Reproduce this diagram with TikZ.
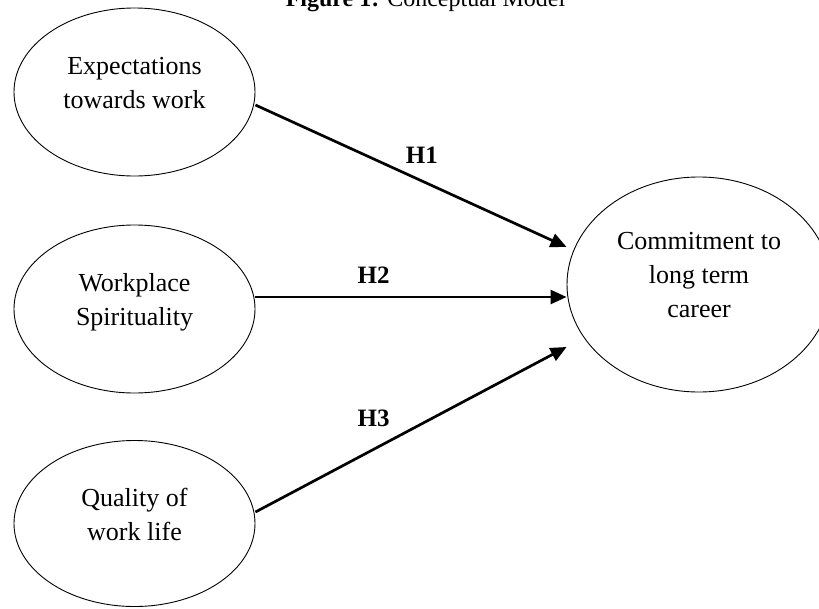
\documentclass[tikz,border=0pt]{standalone}
\usepackage{fontspec}
\setmainfont{Liberation Serif}
\usetikzlibrary{arrows.meta,shapes.geometric}

\begin{document}
\begin{tikzpicture}[x=1pt,y=-1pt,
  oval/.style={draw, ellipse, line width=0.9pt, inner sep=0pt},
  ovaltext/.style={align=center, inner sep=0pt, text depth=0pt, font=\fontsize{26}{34}\selectfont},
  hyp/.style={line width=2.7pt, -{Triangle[length=16pt,width=14pt]}},
  hyplabel/.style={inner sep=0pt, font=\fontsize{25}{30}\selectfont\bfseries}]
\useasboundingbox (0,0) rectangle (819,608);
\node [anchor=base] (title) at (425.5,6) {\fontsize{24}{28}\selectfont\textbf{Figure 1:} Conceptual Model};
% the three antecedents
\node [oval, minimum width=241pt, minimum height=168pt] (exp) at (134.5,92) {};
\node [oval, minimum width=241pt, minimum height=168pt] (wsp) at (134.5,309) {};
\node [oval, minimum width=241pt, minimum height=166pt] (qwl) at (134.5,523.5) {};
% the outcome
\node [oval, minimum width=264pt, minimum height=215pt] (car) at (699,284.5) {};
\node [ovaltext] (exptext) at ([yshift=9pt]exp.center) {Expectations\\towards work};
\node [ovaltext] (wsptext) at ([yshift=10pt]wsp.center) {Workplace\\Spirituality};
\node [ovaltext] (qwltext) at ([yshift=9pt]qwl.center) {Quality of\\work life};
\node [ovaltext] (cartext) at ([yshift=9.5pt]car.center) {Commitment to\\long term\\career};
% hypotheses
\draw [hyp] ([yshift=-13pt]exp.east) -- ([yshift=37.5pt]car.west) node[hyplabel, pos=.535, yshift=26pt]{H1};
\draw [hyp] ([yshift=12pt]wsp.east) -- ([yshift=-12.5pt]car.west) node[hyplabel, pos=.38, yshift=22pt]{H2};
\draw [hyp] ([yshift=11.5pt]qwl.east) -- ([yshift=-62.5pt]car.west) node[hyplabel, pos=.38, yshift=31pt]{H3};
\end{tikzpicture}
\end{document}
